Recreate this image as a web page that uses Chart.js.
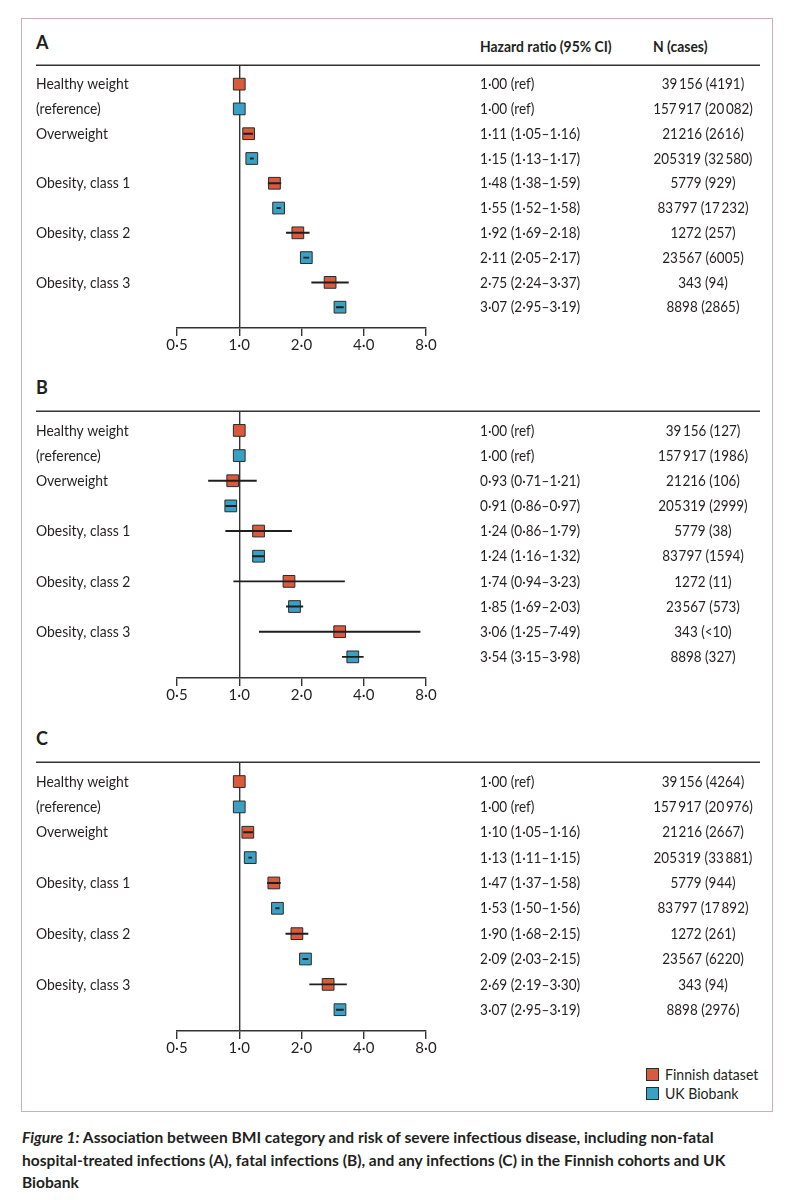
<!DOCTYPE html>
<html>
<head>
<meta charset="utf-8">
<script src="https://cdn.jsdelivr.net/npm/chart.js@4.4.1/dist/chart.umd.min.js"></script>
<style>
html,body{margin:0;padding:0;background:#fff;}
body{width:807px;height:1200px;position:relative;overflow:hidden;font-family:Lato,"Open Sans",sans-serif;color:#231f20;}
.frame{position:absolute;left:21px;top:18px;width:752px;height:1094px;border:1.5px solid #d0adbd;box-sizing:border-box;}
.pane{position:absolute;left:21px;width:752px;}
.t{position:absolute;white-space:nowrap;line-height:20px;height:20px;transform-origin:0 50%;}
.letter{font-weight:700;font-size:18px;}
.hdr{font-weight:700;font-size:16px;transform:scaleX(0.87);}
.lg{font-size:16px;transform:scaleX(0.88);}
.sq{position:absolute;width:11px;height:11px;border:1px solid #2b2b2b;}
.cap{position:absolute;left:22px;white-space:nowrap;font-weight:700;font-size:15.5px;line-height:22.5px;transform-origin:0 50%;}
</style>
</head>
<body>
<div class="frame"></div>

<div class="t letter" style="left:36px;top:32px;">A</div>
<div class="t hdr" style="left:480px;top:36px;">Hazard ratio (95% CI)</div>
<div class="t hdr" style="left:653px;top:36px;">N (cases)</div>
<div class="pane" style="top:56px;height:302px;"><canvas id="chartA"></canvas></div>

<div class="t letter" style="left:36px;top:377px;">B</div>
<div class="pane" style="top:402px;height:306px;"><canvas id="chartB"></canvas></div>

<div class="t letter" style="left:36px;top:728px;">C</div>
<div class="pane" style="top:753px;height:308px;"><canvas id="chartC"></canvas></div>

<div class="sq" style="left:646px;top:1068px;background:#d95a3d;"></div>
<div class="t lg" id="lg0" style="left:665px;top:1064px;"></div>
<div class="sq" style="left:646px;top:1087px;background:#3aa0c4;"></div>
<div class="t lg" id="lg1" style="left:665px;top:1083px;"></div>

<div class="cap" style="top:1126px;"><i>Figure 1:</i> Association between BMI category and risk of severe infectious disease, including non-fatal</div>
<div class="cap" style="top:1148.5px;">hospital-treated infections (A), fatal infections (B), and any infections (C) in the Finnish cohorts and UK</div>
<div class="cap" style="top:1171px;">Biobank</div>

<script>
// ---------- data ----------
const rowLabels = ['Healthy weight', '(reference)', 'Overweight', '', 'Obesity, class 1', '', 'Obesity, class 2', '', 'Obesity, class 3', ''];
const seriesNames = ['Finnish dataset', 'UK Biobank'];
const tickValues = [0.5, 1, 2, 4, 8];

// Panel A: non-fatal hospital-treated infections
const aFinHR = [1.00, 1.11, 1.48, 1.92, 2.75];
const aFinLo = [null, 1.05, 1.38, 1.69, 2.24];
const aFinHi = [null, 1.16, 1.59, 2.18, 3.37];
const aUkHR  = [1.00, 1.15, 1.55, 2.11, 3.07];
const aUkLo  = [null, 1.13, 1.52, 2.05, 2.95];
const aUkHi  = [null, 1.17, 1.58, 2.17, 3.19];
const aFinN  = ['39\u2009156 (4191)', '21\u200a216 (2616)', '5779 (929)', '1272 (257)', '343 (94)'];
const aUkN   = ['157\u2009917 (20\u2009082)', '205\u200a319 (32\u2009580)', '83\u200a797 (17\u2009232)', '23\u200a567 (6005)', '8898 (2865)'];

// Panel B: fatal infections
const bFinHR = [1.00, 0.93, 1.24, 1.74, 3.06];
const bFinLo = [null, 0.71, 0.86, 0.94, 1.25];
const bFinHi = [null, 1.21, 1.79, 3.23, 7.49];
const bUkHR  = [1.00, 0.91, 1.24, 1.85, 3.54];
const bUkLo  = [null, 0.86, 1.16, 1.69, 3.15];
const bUkHi  = [null, 0.97, 1.32, 2.03, 3.98];
const bFinN  = ['39\u2009156 (127)', '21\u200a216 (106)', '5779 (38)', '1272 (11)', '343 (<10)'];
const bUkN   = ['157\u2009917 (1986)', '205\u200a319 (2999)', '83\u200a797 (1594)', '23\u200a567 (573)', '8898 (327)'];

// Panel C: any infections
const cFinHR = [1.00, 1.10, 1.47, 1.90, 2.69];
const cFinLo = [null, 1.05, 1.37, 1.68, 2.19];
const cFinHi = [null, 1.16, 1.58, 2.15, 3.30];
const cUkHR  = [1.00, 1.13, 1.53, 2.09, 3.07];
const cUkLo  = [null, 1.11, 1.50, 2.03, 2.95];
const cUkHi  = [null, 1.15, 1.56, 2.15, 3.19];
const cFinN  = ['39\u2009156 (4264)', '21\u200a216 (2667)', '5779 (944)', '1272 (261)', '343 (94)'];
const cUkN   = ['157\u2009917 (20\u2009976)', '205\u200a319 (33\u2009881)', '83\u200a797 (17\u2009892)', '23\u200a567 (6220)', '8898 (2976)'];

// ---------- style ----------
const RED = '#d95a3d', BLUE = '#3aa0c4', INK = '#231f20', LINE = '#333333';
const FONT = 'Lato, "Open Sans", sans-serif';

document.getElementById('lg0').textContent = seriesNames[0];
document.getElementById('lg1').textContent = seriesNames[1];

const dot = v => v.toFixed(2).replace('.', '\u00b7');
const hrText = (hr, lo, hi) => lo == null ? dot(hr) + ' (ref)' : dot(hr) + ' (' + dot(lo) + '\u2013' + dot(hi) + ')';

function drawScaled(ctx, text, x, y, align, sx) {
  ctx.save();
  ctx.translate(x, y);
  ctx.scale(sx, 1);
  ctx.textAlign = align;
  ctx.fillText(text, 0, 0);
  ctx.restore();
}

const tablePlugin = {
  id: 'forestTable',
  afterDraw(chart, args, opts) {
    const {ctx, chartArea} = chart;
    const ys = chart.scales.y;
    ctx.save();
    ctx.strokeStyle = LINE;
    ctx.lineWidth = 1.5;
    ctx.beginPath();
    ctx.moveTo(ys.left, chartArea.top);
    ctx.lineTo(opts.lineRight, chartArea.top);
    ctx.stroke();
    ctx.fillStyle = INK;
    ctx.font = '16px ' + FONT;
    ctx.textBaseline = 'middle';
    rowLabels.forEach((t, i) => drawScaled(ctx, t, ys.left, ys.getPixelForValue(i), 'left', 0.87));
    opts.hr.forEach((t, i) => drawScaled(ctx, t, opts.hrX, ys.getPixelForValue(i), 'left', 0.85));
    opts.n.forEach((t, i) => drawScaled(ctx, t, opts.nX, ys.getPixelForValue(i), 'center', 0.84));
    ctx.restore();
  }
};

function makePanel(id, finHR, finLo, finHi, ukHR, ukLo, ukHi, finN, ukN) {
  const ci = [], finPts = [], ukPts = [], hr = [], n = [];
  finHR.forEach((v, g) => {
    const rf = 2 * g, ru = 2 * g + 1;
    finPts.push({x: v, y: rf});
    ukPts.push({x: ukHR[g], y: ru});
    if (finLo[g] != null) ci.push({y: rf, x: [finLo[g], finHi[g]]});
    if (ukLo[g] != null) ci.push({y: ru, x: [ukLo[g], ukHi[g]]});
    hr[rf] = hrText(v, finLo[g], finHi[g]);
    hr[ru] = hrText(ukHR[g], ukLo[g], ukHi[g]);
    n[rf] = finN[g];
    n[ru] = ukN[g];
  });
  const pointDs = (label, data, color) => ({
    type: 'line', label, data, showLine: false, clip: false,
    pointStyle: 'rect', pointRadius: 8.3, pointHoverRadius: 8.3,
    pointBackgroundColor: color, pointBorderColor: '#2b2b2b', pointBorderWidth: 1
  });
  return new Chart(document.getElementById(id), {
    type: 'bar',
    data: {
      datasets: [
        {type: 'bar', label: '95% CI', data: ci, backgroundColor: '#1e1e1e', borderWidth: 0, barThickness: 1.3, grouped: false},
        pointDs(seriesNames[0], finPts, RED),
        pointDs(seriesNames[1], ukPts, BLUE)
      ]
    },
    options: {
      indexAxis: 'y',
      responsive: true,
      maintainAspectRatio: false,
      animation: false,
      events: [],
      layout: {padding: {left: 15, right: 347, top: 6, bottom: 0}},
      plugins: {
        legend: {display: false},
        tooltip: {enabled: false},
        forestTable: {hr, n, hrX: 459, nX: 682, lineRight: 739}
      },
      scales: {
        x: {
          type: 'logarithmic', min: 0.5, max: 8, position: 'bottom',
          afterBuildTicks: s => { s.ticks = tickValues.map(v => ({value: v})); },
          afterFit: s => { s.height = 30; },
          ticks: {
            callback: v => v.toFixed(1).replace('.', '\u00b7'),
            font: {family: FONT, size: 15}, color: INK, padding: 0, autoSkip: false, maxRotation: 0
          },
          grid: {
            drawOnChartArea: true, drawTicks: true, tickLength: 8, lineWidth: 1.4,
            color: c => (c.tick && c.tick.value === 1) ? LINE : 'rgba(0,0,0,0)',
            tickColor: LINE
          },
          border: {display: true, color: LINE, width: 1.5}
        },
        y: {
          type: 'linear', reverse: true, min: -0.76, max: 9.84, position: 'left', offset: false,
          afterBuildTicks: s => { s.ticks = rowLabels.map((_, i) => ({value: i})); },
          afterFit: s => { s.width = 141; },
          ticks: {display: false},
          grid: {display: false},
          border: {display: false}
        }
      }
    },
    plugins: [tablePlugin]
  });
}

makePanel('chartA', aFinHR, aFinLo, aFinHi, aUkHR, aUkLo, aUkHi, aFinN, aUkN);
makePanel('chartB', bFinHR, bFinLo, bFinHi, bUkHR, bUkLo, bUkHi, bFinN, bUkN);
makePanel('chartC', cFinHR, cFinLo, cFinHi, cUkHR, cUkLo, cUkHi, cFinN, cUkN);

// fit caption lines to the reference width
const caps = document.querySelectorAll('.cap');
const sc = 692 / caps[0].offsetWidth;
caps.forEach(c => { c.style.transform = 'scaleX(' + sc + ')'; });
</script>
</body>
</html>
